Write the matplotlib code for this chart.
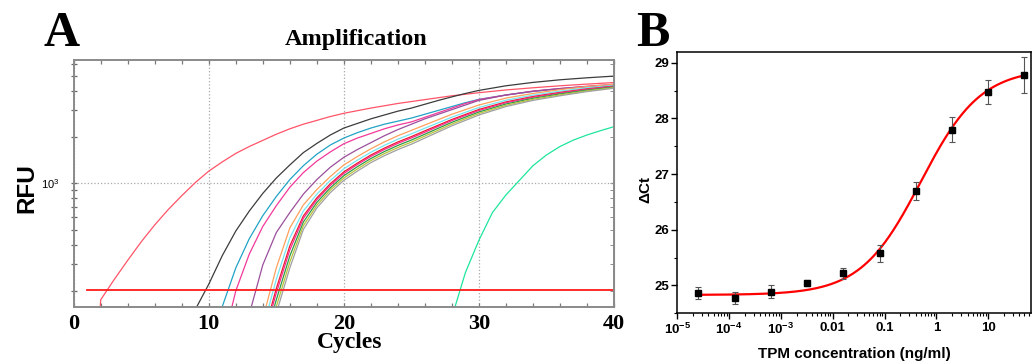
import numpy as np
import matplotlib
matplotlib.use("Agg")
import matplotlib.pyplot as plt
from matplotlib.ticker import FixedLocator, LogLocator, NullFormatter

plt.rcParams["mathtext.fontset"] = "custom"
plt.rcParams["mathtext.rm"] = "Liberation Sans"
plt.rcParams["mathtext.bf"] = "Liberation Sans:bold"

SERIF = "Liberation Serif"
SANS = "Liberation Sans"

# ---------------- panel A: amplification curves (RFU per cycle) ----------------
plateau_cyc = [32, 34, 36, 38, 40]

pink_cyc = list(range(1, 21)) + [22, 24, 26, 28, 30, 32, 34, 36, 38, 40]
pink_rfu = [10, 175, 237, 316, 417, 537, 676, 832, 1012, 1202,
            1380, 1567, 1738, 1905, 2089, 2265, 2427, 2570, 2723, 2858,
            3090, 3311, 3508, 3715, 3890, 4055, 4188, 4315, 4426, 4529]

black_cyc = list(range(9, 31)) + plateau_cyc
black_rfu = [151, 221, 339, 490, 661, 861, 1084, 1318, 1585, 1820, 2065,
             2291, 2455, 2630, 2786, 2951, 3090, 3273, 3467, 3656, 3846,
             4027, 4315, 4539, 4721, 4864, 4989]

teal_cyc = list(range(10, 31)) + plateau_cyc
teal_rfu = [85, 158, 282, 437, 617, 822, 1059, 1303, 1549, 1778, 1972,
            2138, 2291, 2427, 2541, 2661, 2818, 2985, 3162, 3350, 3524,
            3758, 3963, 4121, 4246, 4365]

magenta_cyc = list(range(11, 31)) + plateau_cyc
magenta_rfu = [87, 200, 347, 525, 716, 944, 1175, 1396, 1603, 1811, 1972,
               2113, 2265, 2399, 2512, 2692, 2884, 3090, 3311, 3508,
               3758, 3981, 4140, 4285, 4416]

purple_cyc = list(range(13, 31)) + plateau_cyc
purple_rfu = [141, 295, 479, 646, 851, 1059, 1274, 1479, 1660, 1841, 2042,
              2239, 2427, 2630, 2818, 3020, 3236, 3467,
              3758, 3981, 4140, 4266, 4365]

cluster_cyc = list(range(14, 31)) + plateau_cyc
orange_rfu = [132, 282, 513, 724, 912, 1109, 1318, 1496, 1679, 1862, 2042,
              2213, 2399, 2600, 2818, 3020, 3236, 3589, 3846, 4074, 4266, 4416]
cyan_rfu = [113, 238, 442, 661, 851, 1045, 1245, 1416, 1594, 1768, 1939,
            2101, 2286, 2483, 2698, 2901, 3119, 3475, 3750, 3981, 4188, 4350]
red_rfu = [100, 207, 392, 614, 805, 995, 1189, 1355, 1530, 1696, 1860,
           2016, 2198, 2393, 2606, 2809, 3027, 3388, 3673, 3908, 4121, 4295]
deeppink_rfu = [94, 194, 369, 592, 783, 971, 1161, 1327, 1498, 1662, 1822,
                1975, 2153, 2350, 2564, 2764, 2979, 3350, 3631, 3873, 4093, 4276]
green_rfu = [85, 175, 337, 560, 752, 936, 1122, 1284, 1452, 1611, 1766,
             1914, 2091, 2286, 2498, 2698, 2914, 3285, 3577, 3819, 4046, 4236]
olive_rfu = [78, 158, 308, 530, 721, 904, 1084, 1242, 1408, 1562, 1712,
             1856, 2032, 2223, 2432, 2634, 2851, 3221, 3524, 3767, 3999, 4198]
gray_rfu = [71, 143, 282, 501, 692, 871, 1047, 1202, 1365, 1514, 1660,
            1799, 1972, 2163, 2371, 2570, 2786, 3162, 3467, 3715, 3954, 4159]

late_cyc = list(range(28, 41))
late_rfu = [135, 263, 427, 646, 841, 1047, 1303, 1531, 1738, 1914, 2065,
            2203, 2339]

threshold_cyc = [1, 40]
threshold_rfu = 203

# ---------------- panel B: standard curve ----------------
conc = [2.56e-5, 1.28e-4, 6.4e-4, 3.2e-3, 0.016, 0.08, 0.4, 2, 10, 50]
dct = [24.86, 24.78, 24.89, 25.04, 25.22, 25.58, 26.69, 27.80, 28.48, 28.78]
dct_err = [0.11, 0.11, 0.12, 0.05, 0.10, 0.15, 0.16, 0.22, 0.22, 0.33]
# four-parameter logistic fit shown in red
fit_bottom, fit_top, fit_ec50, fit_hill = 24.83, 28.9, 0.5, 0.75
b_xticks = [1e-5, 1e-4, 1e-3, 0.01, 0.1, 1, 10]
b_xlabels = [r"$\mathbf{10^{-5}}$", r"$\mathbf{10^{-4}}$", r"$\mathbf{10^{-3}}$",
             "0.01", "0.1", "1", "10"]

W, H = 1035, 363
fig = plt.figure(figsize=(W / 100, H / 100), dpi=100)

# ---- A ----
axA = fig.add_axes([73.7 / W, 1 - 307 / H, 540.3 / W, 247 / H])
curves = [
    (pink_cyc, pink_rfu, "#ff5468"),
    (black_cyc, black_rfu, "#3c3c3c"),
    (teal_cyc, teal_rfu, "#21a3c6"),
    (magenta_cyc, magenta_rfu, "#f2399a"),
    (purple_cyc, purple_rfu, "#9b4f9b"),
    (cluster_cyc, orange_rfu, "#ffa05c"),
    (cluster_cyc, cyan_rfu, "#72e6f2"),
    (cluster_cyc, red_rfu, "#e8192c"),
    (cluster_cyc, deeppink_rfu, "#ff2a8c"),
    (cluster_cyc, green_rfu, "#2e9a48"),
    (cluster_cyc, olive_rfu, "#b8c43c"),
    (cluster_cyc, gray_rfu, "#a0a0a0"),
    (late_cyc, late_rfu, "#1ee69c"),
]
for cyc, rfu, col in curves:
    axA.plot(cyc, rfu, color=col, lw=0.9)
axA.plot(threshold_cyc, [threshold_rfu] * 2, color="#ff1a1a", lw=1.3)

axA.set_yscale("log")
axA.set_xlim(0, 40)
axA.set_ylim(157, 6350)
axA.set_xticks([0, 10, 20, 30, 40])
axA.set_xticks(np.arange(0, 41, 2), minor=True)
axA.set_yticks([1000])
axA.set_yticklabels([r"$10^3$"])
axA.yaxis.set_minor_locator(LogLocator(base=10, subs=np.arange(2, 10)))
axA.yaxis.set_minor_formatter(NullFormatter())
axA.grid(True, which="major", ls=":", color="#a8a8a8", lw=0.9)
for s in axA.spines.values():
    s.set_color("#8a8a8a")
    s.set_linewidth(1.4)
axA.tick_params(axis="x", which="both", direction="in", top=True,
                length=3, color="#7a7a7a", width=0.9)
axA.tick_params(axis="x", which="major", labelsize=16, pad=5)
axA.tick_params(axis="y", which="both", direction="inout", length=5,
                color="#6a6a6a", width=0.9, labelsize=8, pad=8)
for lab in axA.get_xticklabels():
    lab.set_fontfamily(SERIF)
    lab.set_fontweight("bold")
sec = axA.secondary_yaxis("right")
sec.set_yticks([1000])
sec.yaxis.set_minor_locator(LogLocator(base=10, subs=np.arange(2, 10)))
sec.yaxis.set_minor_formatter(NullFormatter())
sec.tick_params(axis="y", which="both", direction="in", length=3,
                color="#7a7a7a", labelright=False)
sec.spines["right"].set_color("#8a8a8a")

fig.text(62 / W, 1 - 46 / H, "A", fontsize=36, fontfamily=SERIF,
         fontweight="bold", ha="center", va="baseline")
fig.text(356 / W, 1 - 45.5 / H, "Amplification", fontsize=17.5,
         fontfamily=SERIF, fontweight="bold", ha="center", va="baseline")
fig.text(350 / W, 1 - 348 / H, "Cycles", fontsize=17, fontfamily=SERIF,
         fontweight="bold", ha="center", va="baseline")
fig.text(27 / W, 1 - 188 / H, "RFU", fontsize=17.5, fontfamily=SANS,
         fontweight="bold", rotation=90, ha="center", va="center")

# ---- B ----
axB = fig.add_axes([677.3 / W, 1 - 313.3 / H, 353.4 / W, 261.6 / H])
xfit = np.logspace(np.log10(conc[0]), np.log10(conc[-1]), 300)
yfit = fit_bottom + (fit_top - fit_bottom) / (1 + (fit_ec50 / xfit) ** fit_hill)
axB.plot(xfit, yfit, color="#ff0000", lw=1.6, zorder=2)
axB.errorbar(conc, dct, yerr=dct_err, fmt="s", color="black", ms=5,
             ecolor="#555555", elinewidth=0.8, capsize=2.5, capthick=0.8,
             zorder=3)
axB.set_xscale("log")
axB.set_xlim(1e-5, 66)
axB.set_ylim(24.5, 29.2)
axB.xaxis.set_major_locator(FixedLocator(b_xticks))
axB.set_xticklabels(b_xlabels)
axB.xaxis.set_minor_locator(LogLocator(base=10, subs=np.arange(2, 10),
                                       numticks=50))
axB.xaxis.set_minor_formatter(NullFormatter())
axB.set_yticks([25, 26, 27, 28, 29])
axB.set_yticks(np.arange(24.5, 29.0, 0.5), minor=True)
for s in axB.spines.values():
    s.set_linewidth(1.1)
axB.tick_params(which="major", direction="out", length=4, width=1.0,
                labelsize=9.5, pad=2)
axB.tick_params(which="minor", direction="out", length=2.2, width=0.8)
for lab in axB.get_xticklabels() + axB.get_yticklabels():
    lab.set_fontfamily(SANS)
    lab.set_fontweight("bold")

fig.text(653 / W, 1 - 46 / H, "B", fontsize=36, fontfamily=SERIF,
         fontweight="bold", ha="center", va="baseline")
fig.text(645 / W, 1 - 189 / H, "\u0394Ct", fontsize=11, fontfamily=SANS,
         fontweight="bold", rotation=90, ha="center", va="center")
fig.text(854 / W, 1 - 358 / H, "TPM concentration (ng/ml)", fontsize=11,
         fontfamily=SANS, fontweight="bold", ha="center", va="baseline")

fig.savefig("out.png", dpi=100)
